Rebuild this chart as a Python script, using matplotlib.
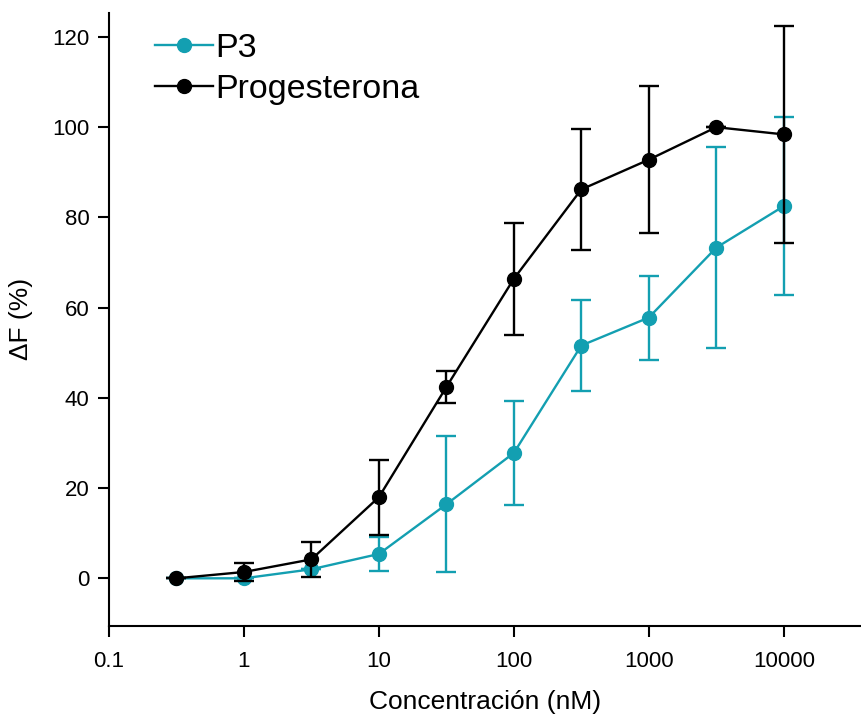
import matplotlib.pyplot as plt
from matplotlib.lines import Line2D
import numpy as np

plt.rcParams['font.family'] = ['Liberation Sans', 'DejaVu Sans']

# Data
conc = [0.316, 1, 3.16, 10, 31.6, 100, 316, 1000, 3162, 10000]
p3 = [0, 0, 2.0, 5.4, 16.4, 27.8, 51.6, 57.8, 73.3, 82.5]
p3_err = [0, 0, 0, 3.8, 15.1, 11.5, 10.0, 9.3, 22.2, 19.8]
prog = [0, 1.4, 4.2, 18.0, 42.4, 66.4, 86.2, 92.8, 100.0, 98.4]
prog_err = [0, 1.9, 3.9, 8.3, 3.6, 12.4, 13.4, 16.3, 0, 24.1]

xticks = [0.1, 1, 10, 100, 1000, 10000]
xticklabels = ["0.1", "1", "10", "100", "1000", "10000"]
yticks = [0, 20, 40, 60, 80, 100, 120]

teal = '#139fb1'

fig = plt.figure(figsize=(8.62, 7.25), dpi=100)
ax = fig.add_axes([0.1265, 0.137, 0.8735, 0.845])

ax.errorbar(conc, p3, yerr=p3_err, color=teal, marker='o', markersize=10,
            lw=1.7, elinewidth=1.7, capsize=7, capthick=1.7, zorder=2)
ax.errorbar(conc, prog, yerr=prog_err, color='black', marker='o', markersize=10,
            lw=1.7, elinewidth=1.7, capsize=7, capthick=1.7, zorder=3)

ax.set_xscale('log')
ax.set_xlim(0.1, 38000)
ax.set_ylim(-10.5, 125.3)
ax.set_xticks(xticks)
ax.set_xticklabels(xticklabels)
ax.minorticks_off()
ax.set_yticks(yticks)

for s in ['top', 'right']:
    ax.spines[s].set_visible(False)
for s in ['left', 'bottom']:
    ax.spines[s].set_linewidth(1.5)
ax.tick_params(axis='both', direction='out', length=8, width=1.5, labelsize=16)
ax.tick_params(axis='x', pad=10)
ax.tick_params(axis='y', pad=6)

ax.set_xlabel('Concentración (nM)', fontsize=19, labelpad=13)
ax.set_ylabel('ΔF (%)', fontsize=19, labelpad=14)

handles = [Line2D([], [], color=teal, marker='o', markersize=10, lw=1.7),
           Line2D([], [], color='black', marker='o', markersize=10, lw=1.7)]
fig.legend(handles, ['P3', 'Progesterona'], loc='upper left',
           bbox_to_anchor=(155 / 862, 1 - 33 / 725), frameon=False, fontsize=24.5,
           handlelength=1.7, handletextpad=0.08, labelspacing=0.3,
           borderaxespad=0, borderpad=0)

fig.savefig('out.png', dpi=100)
